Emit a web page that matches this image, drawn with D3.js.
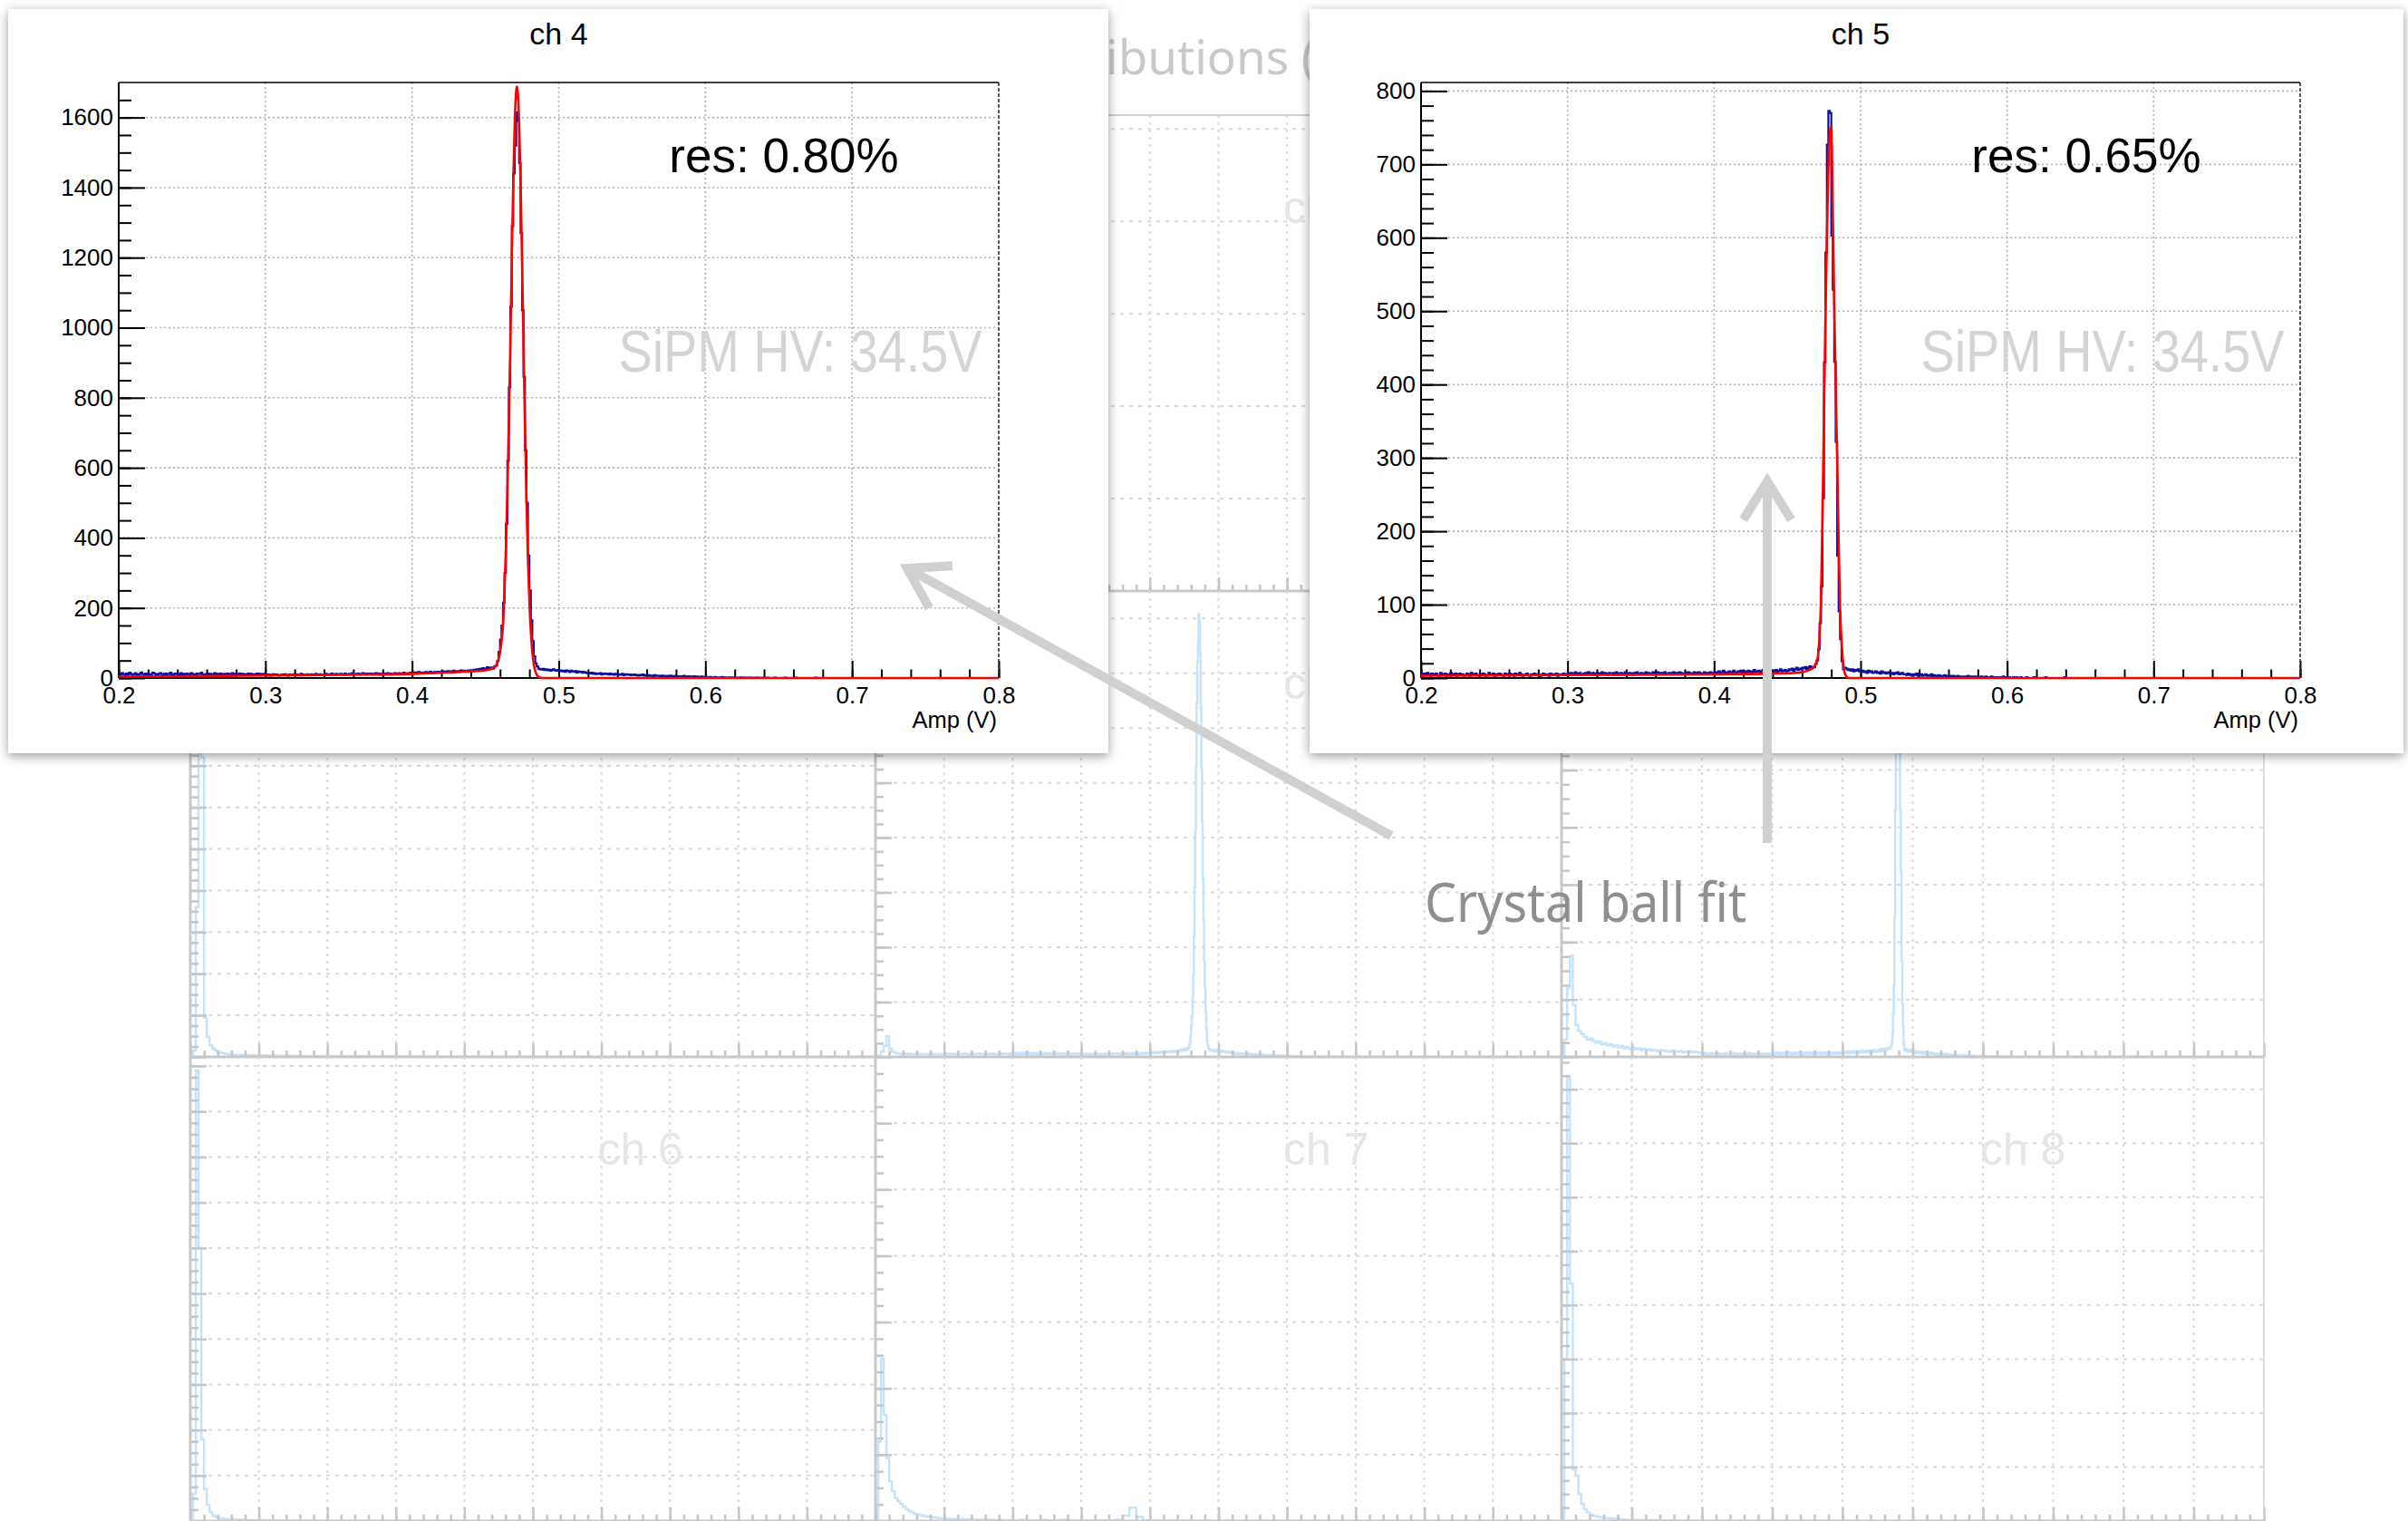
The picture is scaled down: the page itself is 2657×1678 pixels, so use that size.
<!DOCTYPE html>
<html>
<head>
<meta charset="utf-8">
<title>ch 4 / ch 5 amplitude fits</title>
<script src="https://cdn.jsdelivr.net/npm/d3@7/dist/d3.min.js"></script>
<style>
  html, body { margin: 0; padding: 0; background: #fff; }
  svg { display: block; }
</style>
</head>
<body>
<svg id="slide" width="2657" height="1678"></svg>
<script>
// ---------------- data ----------------
// inset histograms: 0.001 V bins starting at 0.2 V
var binStart = 0.2, binWidth = 0.001;

var ch4Counts = [
  12,9,14,11,8,13,10,15,12,9, 11,14,10,8,12,16,11,9,13,10,
  12,8,11,15,13,10,9,12,14,11, 10,13,8,12,11,15,9,10,13,12,
  11,9,14,10,12,8,13,11,10,14, 12,10,9,13,11,12,15,10,8,11,
  13,10,12,9,11,14,10,12,9,13, 11,8,12,10,13,11,9,14,10,12,
  9,11,13,10,12,8,11,10,13,9, 12,10,11,9,13,10,12,11,8,12,
  9,8,10,7,9,11,8,10,9,7, 8,10,9,11,8,7,10,9,8,11,
  9,10,8,9,12,10,8,9,11,10, 9,11,10,8,12,9,10,11,9,8,
  10,12,9,11,10,13,9,10,12,11, 10,12,11,9,13,10,11,12,10,14,
  11,10,12,13,10,11,14,12,10,13, 12,11,13,10,12,14,11,13,12,10,
  13,12,11,14,12,13,10,12,14,13, 12,14,13,11,15,12,13,14,12,15,
  14,16,13,15,17,14,16,15,13,17, 16,15,18,14,16,17,15,18,16,17,
  17,19,16,18,20,17,19,18,21,17, 19,20,18,22,19,21,20,18,22,21,
  22,20,24,21,25,23,26,22,28,24, 27,31,25,29,30,27,33,36,
  48,75,110,150,215,300,440,620,830,1060,
  1290,1440,1520,1615,1590,1470,1270,1050,860,650,
  500,350,250,165,105,62,42,33,27,25,
  24,26,23,25,22,24,21,23,25,22,21,23,
  20,22,19,21,18,22,20,17,21,19, 18,20,16,19,17,18,15,17,16,14,
  14,13,15,12,14,11,13,12,14,10, 12,13,11,12,10,13,11,9,12,10,
  11,9,10,12,8,10,11,9,10,8, 9,10,8,9,7,9,8,10,7,8,
  7,8,6,7,5,8,6,7,6,5, 7,5,6,4,6,5,7,4,5,6,
  4,5,3,5,4,6,3,4,5,3, 4,3,5,2,4,3,2,4,3,2,
  3,2,2,3,1,2,3,1,2,2, 1,3,1,2,1,1,2,0,1,2,
  1,0,1,1,2,0,1,0,1,1, 0,1,0,0,1,0,1,0,0,1,
  0,0,1,0,0,0,0,1,0,0, 0,0,0,0,1,0,0,0,0,0,
  0,1,0,0,0,0,0,0,0,0, 0,0,0,0,0,1,0,0,0,0,
  0,0,0,0,0,0,0,0,0,0, 0,0,0,0,0,0,0,0,0,0,
  0,0,0,0,0,0,0,0,0,0, 0,0,0,0,0,0,0,0,0,0,
  0,0,0,0,0,0,0,0,0,0, 0,0,0,0,0,0,0,0,0,0,
  0,0,0,0,0,0,0,0,0,0, 0,0,0,0,0,0,0,0,0,0,
  0,0,0,0,0,0,0,0,0,0, 0,0,0,0,0,0,0,0,0,0,
  0,0,0,0,0,0,0,0,0,0, 0,0,0,0,0,0,0,0,0,0
];

var ch5Counts = [
  5,3,6,4,7,5,3,6,4,5, 6,4,3,7,5,4,6,3,5,4,
  7,5,4,6,3,5,6,4,5,3, 4,6,5,3,7,4,5,6,4,3,
  5,4,6,5,3,4,7,5,4,6, 3,5,4,6,5,4,3,6,5,4,
  6,4,5,3,6,5,4,7,5,3, 4,5,6,4,3,5,4,6,5,4,
  5,3,4,6,5,4,5,3,6,4, 5,4,6,3,5,4,5,6,4,5,
  6,5,7,4,6,8,5,6,7,5, 4,6,7,5,8,6,5,7,4,6,
  7,5,6,8,5,7,6,4,7,6, 5,7,6,8,5,6,7,5,6,8,
  6,5,7,6,4,7,6,8,5,6, 7,6,5,8,6,7,5,6,8,7,
  6,8,5,7,6,7,8,6,5,7, 6,7,8,5,7,6,8,7,6,5,
  7,6,8,7,5,6,8,7,6,8, 7,5,6,8,7,6,7,8,6,7,
  7,8,6,9,7,8,10,7,8,6, 9,8,7,10,8,7,9,8,10,7,
  8,9,7,10,8,9,7,11,8,9, 10,8,9,11,8,10,9,8,11,9,
  10,9,11,8,10,12,9,10,11,9,
  10,12,11,13,10,12,14,11,13,12, 14,13,15,12,14,16,15,14,
  15,19,24,39,75,125,245,430,580,727,
  773,770,603,529,431,322,167,91,53,23,
  12,14,13,
  11,12,10,12,9,11,10,12,9,
  9,10,8,9,7,10,8,9,7,8, 9,7,8,6,9,7,8,6,7,8,
  6,7,5,7,6,8,5,6,7,5,
  5,4,6,4,5,3,5,4,6,3, 4,5,3,4,5,3,4,3,5,2,
  4,3,2,4,3,2,3,4,2,3, 2,3,1,3,2,2,3,1,2,2,
  2,1,2,3,1,2,1,2,1,2, 1,1,2,0,1,2,1,0,1,2,
  1,0,1,1,0,1,0,2,0,1, 0,1,0,0,1,0,1,0,0,1,
  0,0,0,1,0,0,0,0,1,0, 0,0,0,0,0,0,1,0,0,0,
  0,0,0,0,0,0,0,0,0,1,
  0,0,0,0,0,0,0,0,0,0, 0,0,0,0,0,0,0,0,0,0,
  0,0,0,0,0,0,0,0,0,0, 0,0,0,0,0,0,0,0,0,0,
  0,0,0,0,0,0,0,0,0,0, 0,0,0,0,0,0,0,0,0,0,
  0,0,0,0,0,0,0,0,0,0, 0,0,0,0,0,0,0,0,0,0,
  0,0,0,0,0,0,0,0,0,0, 0,0,0,0,0,0,0,0,0,0,
  0,0,0,0,0,0,0,0,0,0, 0,0,0,0,0,0,0,0,0,0,
  0,0,0,0,0,0,0,0,0,0, 0,0,0,0,0,0,0,0,0,0,
  0,0,0,0,0,0,0,0,0,0, 0,0,0,0,0,0,0,0,0,0
];

// crystal ball fits: [amp (V), counts]
var ch4Fit = [
  [0.200,4],[0.250,5],[0.300,7],[0.350,9],[0.400,12],[0.420,15],[0.440,19],[0.450,22],
  [0.455,28],[0.457,34],[0.459,55],[0.460,73],[0.461,106],[0.462,150],[0.463,245],
  [0.464,368],[0.465,530],[0.466,730],[0.467,951],[0.468,1193],[0.469,1414],[0.470,1584],
  [0.471,1676],[0.4715,1688],[0.472,1676],[0.473,1584],[0.474,1414],[0.475,1193],
  [0.476,951],[0.477,716],[0.478,509],[0.479,343],[0.480,218],[0.481,131],[0.482,74],
  [0.483,40],[0.484,20],[0.485,10],[0.486,4],[0.487,2],[0.488,0.5],[0.490,0],[0.800,0]
];
var ch5Fit = [
  [0.200,3],[0.300,4],[0.400,5],[0.440,6],[0.455,7],[0.460,8],[0.465,11],[0.468,15],
  [0.469,18],[0.470,22],[0.471,32],[0.472,58],[0.473,110],[0.474,220],[0.475,360],
  [0.476,490],[0.477,600],[0.478,690],[0.479,740],[0.480,752],[0.481,640],[0.482,510],
  [0.483,400],[0.484,300],[0.485,190],[0.486,95],[0.487,50],[0.488,22],[0.489,8],
  [0.490,3],[0.492,0],[0.800,0]
];

var ampTicks = [0.2, 0.3, 0.4, 0.5, 0.6, 0.7, 0.8];
var ch4CountTicks = [0, 200, 400, 600, 800, 1000, 1200, 1400, 1600];
var ch5CountTicks = [0, 100, 200, 300, 400, 500, 600, 700, 800];
var insetNames = ["ch 4", "ch 5"];
var resLabels = ["res: 0.80%", "res: 0.65%"];
var hvLabel = "SiPM HV: 34.5V";
var ampLabel = "Amp (V)";
var canvasTitle = "Amplitude distributions (V)";
var fitLabel = "Crystal ball fit";

// faded full canvas behind the insets: 3x3 pads, amp 0..1 V
var padNames = ["ch 0", "ch 1", "ch 2", "ch 3", "ch 4", "ch 5", "ch 6", "ch 7", "ch 8"];
var padYMax = [5150, 5150, 5150, 2800, 1700, 812, 5100, 700, 4300];
var padYStep = [1000, 1000, 1000, 250, 200, 100, 500, 100, 500];
var lowBinWidth = 0.004, highBinWidth = 0.01;
var ch3Low = [0,40,900,2600,1800,235,120,70,50,40, 30,25,20,18,15,14,12,11,10,12,
  9,10,11,8,9,10,8,9,7,8, 9,7,8,6,7,8,6,7,5,6, 7,5,6,4,5,6,4,5,4,5];
var ch4Low = [0,5,20,40,76,30,18,14,12,11, 10,12,9,11,10,12,10,9,11,10,
  12,9,10,11,9,10,12,10,11,9, 10,11,12,10,9,11,10,12,11,10, 9,11,12,10,11,10,12,11,10,12];
var ch5Low = [0,30,120,176,90,55,45,40,35,30, 32,28,25,27,22,24,20,22,18,20,
  17,19,15,17,14,16,13,15,12,14, 12,13,11,12,10,12,11,10,9,11, 10,9,10,8,9,10,8,9,8,7];
var ch6Low = [0,300,4950,3000,900,350,180,100,60,45, 35,30,25,22,20,18,16,15,14,13,
  12,12,11,10,10,9,9,8,8,8, 7,7,7,6,6,6,5,5,5,5, 4,4,4,4,4,3,3,3,3,3];
var ch7Low = [0,120,245,160,95,60,45,35,30,26, 22,18,15,13,11,10,9,8,7,6,
  6,5,5,4,4,4,3,3,3,3, 2,3,2,2,3,2,2,2,1,2, 2,1,2,1,1,2,1,1,1,1];
var ch8Low = [0,1500,4120,2200,478,420,250,160,110,80, 60,50,45,38,32,30,26,24,20,18,
  17,15,14,13,12,11,10,10,9,9, 8,8,7,7,6,6,6,5,5,5, 4,4,4,4,3,3,3,3,3,2];
var ch3High = [6,5,6,4,5,4,5,3,4,3, 3,4,2,3,2,3,2,2,1,2, 1,2,1,1,0,1,1,0,1,0, 0,1,0,0,0,1,0,0,0,0,
  0,0,0,0,0,0,0,0,0,0, 0,0,0,0,0,0,0,0,0,0, 0,0,0,0,0,0,0,0,0,0, 0,0,0,0,0,0,0,0,0,0];
var ch6High = [3,3,2,3,2,2,2,1,2,1, 1,1,1,0,1,1,0,1,0,0, 0,1,0,0,0,0,1,0,0,0, 0,0,0,0,0,0,0,0,0,0,
  0,0,0,0,0,0,0,0,0,0, 0,0,0,0,0,0,0,0,0,0, 0,0,0,0,0,0,0,0,0,0, 0,0,0,0,0,0,0,0,0,0];
var ch7High = [1,2,1,1,2,1,1,2,1,1, 1,1,1,1,1,2,8,20,6,1, 1,1,0,1,0,1,0,0,1,0, 0,1,0,0,0,0,1,0,0,0,
  0,0,0,0,0,0,0,0,0,0, 0,0,0,0,0,0,0,0,0,0, 0,0,0,0,0,0,0,0,0,0, 0,0,0,0,0,0,0,0,0,0];
var ch8High = [3,2,2,2,1,2,1,1,1,0, 1,1,0,1,0,0,1,0,0,0, 1,0,0,0,0,0,0,0,0,0, 0,0,0,0,0,0,0,0,0,0,
  0,0,0,0,0,0,0,0,0,0, 0,0,0,0,0,0,0,0,0,0, 0,0,0,0,0,0,0,0,0,0, 0,0,0,0,0,0,0,0,0,0];

// ---------------- drawing ----------------
var rootFont = "'Liberation Sans', Arial, Helvetica, sans-serif";
var slideFont = "'Noto Sans', 'DejaVu Sans', sans-serif";
var svg = d3.select("#slide");

// the two inset cards: [x, y, w, h]
var cards = [[9, 10, 1214, 821], [1445, 10, 1207, 821]];

var defs = svg.append("defs");
defs.append("filter").attr("id", "cardShadow")
    .attr("x", "-4%").attr("y", "-4%").attr("width", "108%").attr("height", "110%")
  .append("feDropShadow")
    .attr("dx", 0).attr("dy", 3).attr("stdDeviation", 6)
    .attr("flood-color", "#000").attr("flood-opacity", 0.4);

// ---- background canvas ----
var colX = [210, 966, 1723, 2498];
var rowY = [127, 652, 1166, 1678];
var bg = svg.append("g");

var title = bg.append("text")
    .attr("x", 0).attr("y", 82)
    .attr("font-family", slideFont).attr("font-size", 53)
    .attr("fill", "#c9c9c9")
    .text(canvasTitle);
var cut = canvasTitle.indexOf("ibutions");
title.attr("x", 1220 - title.node().getStartPositionOfChar(cut).x);

bg.append("line")
    .attr("x1", colX[0]).attr("x2", colX[3]).attr("y1", rowY[0]).attr("y2", rowY[0])
    .attr("stroke", "#cfcfcf").attr("stroke-width", 2);

var lowSets = [null, null, null, ch3Low, ch4Low, ch5Low, ch6Low, ch7Low, ch8Low];
var highSets = [null, null, null, ch3High, ch4Counts, ch5Counts, ch6High, ch7High, ch8High];
var highWidths = [0, 0, 0, highBinWidth, binWidth, binWidth, highBinWidth, highBinWidth, highBinWidth];

function styleBgAxis(sel) {
  sel.select(".domain").remove();
  sel.selectAll(".tick line").attr("stroke", "#c6c6c6").attr("stroke-width", 2.5);
}

function underCard(box) {
  return cards.some(function(c) {
    return box.x >= c[0] && box.x + box.width <= c[0] + c[2] &&
           box.y >= c[1] && box.y + box.height <= c[1] + c[3];
  });
}

padNames.forEach(function(name, i) {
  var r = Math.floor(i / 3), c = i % 3;
  var x0 = colX[c], x1 = colX[c + 1], y0 = rowY[r], y1 = rowY[r + 1];
  var x = d3.scaleLinear().domain([0, 1]).range([x0, x1]);
  var y = d3.scaleLinear().domain([0, padYMax[i]]).range([y1, y0]);
  var g = bg.append("g");

  var xMajor = d3.range(0, 1.0001, 0.1);
  var xMinor = d3.range(0, 1.0001, 0.02);
  var yMajor = d3.range(0, padYMax[i], padYStep[i]);
  var yMinor = d3.range(0, padYMax[i], padYStep[i] / 4);

  g.selectAll(".vgrid").data(xMajor.slice(1, -1)).enter().append("line")
      .attr("x1", function(d) { return x(d); }).attr("x2", function(d) { return x(d); })
      .attr("y1", y0).attr("y2", y1)
      .attr("stroke", "#dadada").attr("stroke-width", 2).attr("stroke-dasharray", "3,5");
  g.selectAll(".hgrid").data(yMajor.slice(1)).enter().append("line")
      .attr("x1", x0).attr("x2", x1)
      .attr("y1", function(d) { return y(d); }).attr("y2", function(d) { return y(d); })
      .attr("stroke", "#dadada").attr("stroke-width", 2).attr("stroke-dasharray", "4,6");

  var label = g.append("text")
      .attr("x", x0 + 0.657 * (x1 - x0)).attr("y", y0 + 119)
      .attr("text-anchor", "middle")
      .attr("font-family", rootFont).attr("font-size", 50)
      .attr("fill", "#e6e6e6")
      .text(name);
  // pad labels that sit completely under an inset card are never seen
  if (underCard(label.node().getBBox())) label.remove();

  if (lowSets[i]) {
    var pts = lowSets[i].map(function(v, k) { return [k * lowBinWidth, v]; });
    var hs = highSets[i], hw = highWidths[i];
    hs.forEach(function(v, k) { pts.push([0.2 + k * hw, v]); });
    var end = 0.2 + hs.length * hw;
    pts.push([end, 0]);
    if (end < 0.9999) pts.push([1, 0]);
    var bgLine = d3.line()
        .x(function(d) { return x(d[0]); })
        .y(function(d) { return y(Math.min(d[1], padYMax[i])); })
        .curve(d3.curveStepAfter);
    g.append("path").datum(pts)
        .attr("fill", "none").attr("stroke", "#c6e3fa").attr("stroke-width", 2.5)
        .attr("d", bgLine);
  }

  g.append("g").attr("transform", "translate(0," + y1 + ")")
      .call(d3.axisBottom(x).tickValues(xMinor).tickSize(-7).tickFormat(""))
      .call(styleBgAxis);
  g.append("g").attr("transform", "translate(0," + y1 + ")")
      .call(d3.axisBottom(x).tickValues(xMajor).tickSize(-15).tickFormat(""))
      .call(styleBgAxis);
  g.append("g").attr("transform", "translate(" + x0 + ",0)")
      .call(d3.axisLeft(y).tickValues(yMinor).tickSize(-9).tickFormat(""))
      .call(styleBgAxis);
  g.append("g").attr("transform", "translate(" + x0 + ",0)")
      .call(d3.axisLeft(y).tickValues(yMajor).tickSize(-18).tickFormat(""))
      .call(styleBgAxis);

  g.append("line").attr("x1", x0).attr("x2", x1).attr("y1", y1).attr("y2", y1)
      .attr("stroke", "#c8c8c8").attr("stroke-width", 3);
  g.append("line").attr("x1", x0).attr("x2", x0).attr("y1", y0).attr("y2", y1)
      .attr("stroke", "#c8c8c8").attr("stroke-width", 3);
  if (c === 2) {
    g.append("line").attr("x1", x1).attr("x2", x1).attr("y1", y0).attr("y2", y1)
        .attr("stroke", "#d2d2d2").attr("stroke-width", 1.5);
  }
});

// ---- inset cards ----
function drawInset(k, fx0, fx1, yMax, yTicks, yMinorStep, counts, fit) {
  var fy0 = 91, fy1 = 748;
  var card = cards[k];
  var g = svg.append("g");
  g.append("rect")
      .attr("x", card[0]).attr("y", card[1]).attr("width", card[2]).attr("height", card[3])
      .attr("fill", "#fff").attr("filter", "url(#cardShadow)");

  var x = d3.scaleLinear().domain([0.2, 0.8]).range([fx0, fx1]);
  var y = d3.scaleLinear().domain([0, yMax]).range([fy1, fy0]);

  // dotted grid
  g.selectAll(".vgrid").data(ampTicks.slice(1, -1)).enter().append("line")
      .attr("x1", function(d) { return x(d); }).attr("x2", function(d) { return x(d); })
      .attr("y1", fy0).attr("y2", fy1)
      .attr("stroke", "#b4b4b4").attr("stroke-width", 1.6).attr("stroke-dasharray", "2,3");
  g.selectAll(".hgrid").data(yTicks.slice(1)).enter().append("line")
      .attr("x1", fx0).attr("x2", fx1)
      .attr("y1", function(d) { return y(d); }).attr("y2", function(d) { return y(d); })
      .attr("stroke", "#b4b4b4").attr("stroke-width", 1.6).attr("stroke-dasharray", "2,3");

  // axes
  function styleAxis(sel) {
    sel.select(".domain").remove();
    sel.attr("font-family", rootFont).attr("font-size", 26);
    sel.selectAll(".tick line").attr("stroke", "#000").attr("stroke-width", 2);
    sel.selectAll(".tick text").attr("fill", "#000");
  }
  g.append("g").attr("transform", "translate(0," + fy1 + ")")
      .call(d3.axisBottom(x).tickValues(d3.range(0.2, 0.8001, 0.02)).tickSize(-9.5).tickFormat(""))
      .call(styleAxis);
  g.append("g").attr("transform", "translate(0," + fy1 + ")")
      .call(d3.axisBottom(x).tickValues(ampTicks).tickSize(-19).tickPadding(10).tickFormat(d3.format(".1f")))
      .call(styleAxis);
  g.append("g").attr("transform", "translate(" + fx0 + ",0)")
      .call(d3.axisLeft(y).tickValues(d3.range(0, yMax, yMinorStep)).tickSize(-14).tickFormat(""))
      .call(styleAxis);
  g.append("g").attr("transform", "translate(" + fx0 + ",0)")
      .call(d3.axisLeft(y).tickValues(yTicks).tickSize(-29).tickPadding(6).tickFormat(d3.format("d")))
      .call(styleAxis);

  // frame
  g.append("line").attr("x1", fx0).attr("x2", fx1).attr("y1", fy0).attr("y2", fy0)
      .attr("stroke", "#000").attr("stroke-width", 1.6);
  g.append("line").attr("x1", fx1).attr("x2", fx1).attr("y1", fy0).attr("y2", fy1)
      .attr("stroke", "#333").attr("stroke-width", 1.6).attr("stroke-dasharray", "4,2");
  g.append("line").attr("x1", fx0).attr("x2", fx0).attr("y1", fy0).attr("y2", fy1)
      .attr("stroke", "#000").attr("stroke-width", 2);
  g.append("line").attr("x1", fx0).attr("x2", fx1).attr("y1", fy1).attr("y2", fy1)
      .attr("stroke", "#000").attr("stroke-width", 2);

  // histogram
  var pts = counts.map(function(v, i) { return [binStart + i * binWidth, v]; });
  pts.push([binStart + counts.length * binWidth, counts[counts.length - 1]]);
  var histLine = d3.line()
      .x(function(d) { return x(d[0]); })
      .y(function(d) { return y(d[1]); })
      .curve(d3.curveStepAfter);
  g.append("path").datum(pts)
      .attr("fill", "none").attr("stroke", "#0c0c9e").attr("stroke-width", 2.2)
      .attr("d", histLine);

  // fit
  var fitLine = d3.line()
      .x(function(d) { return x(d[0]); })
      .y(function(d) { return y(d[1]); })
      .curve(d3.curveMonotoneX);
  g.append("path").datum(fit)
      .attr("fill", "none").attr("stroke", "#ff0000").attr("stroke-width", 2.6)
      .attr("d", fitLine);

  // texts
  g.append("text")
      .attr("x", (fx0 + fx1) / 2).attr("y", 49)
      .attr("text-anchor", "middle")
      .attr("font-family", rootFont).attr("font-size", 34).attr("fill", "#000")
      .text(insetNames[k]);
  g.append("text")
      .attr("x", fx0 + 734).attr("y", 190)
      .attr("text-anchor", "middle")
      .attr("font-family", rootFont).attr("font-size", 53).attr("fill", "#000")
      .text(resLabels[k]);
  g.append("text")
      .attr("x", fx0 + 752).attr("y", 410)
      .attr("text-anchor", "middle")
      .attr("font-family", rootFont).attr("font-size", 64).attr("fill", "#d4d4d4")
      .attr("textLength", 401).attr("lengthAdjust", "spacingAndGlyphs")
      .text(hvLabel);
  g.append("text")
      .attr("x", fx1 - 2).attr("y", 803)
      .attr("text-anchor", "end")
      .attr("font-family", rootFont).attr("font-size", 25.5).attr("fill", "#000")
      .text(ampLabel);
}

drawInset(0, 131, 1102, 1700, ch4CountTicks, 50, ch4Counts, ch4Fit);
drawInset(1, 1568, 2538, 811.6, ch5CountTicks, 20, ch5Counts, ch5Fit);

// ---- annotation arrows ----
var arrows = [
  { from: [1535, 922], to: [1001, 627] },
  { from: [1950, 930], to: [1950, 531] }
];
var notes = svg.append("g");
arrows.forEach(function(a) {
  var ang = Math.atan2(a.from[1] - a.to[1], a.from[0] - a.to[0]);
  var spread = 32 * Math.PI / 180, len = 50;
  var armA = [a.to[0] + len * Math.cos(ang + spread), a.to[1] + len * Math.sin(ang + spread)];
  var armB = [a.to[0] + len * Math.cos(ang - spread), a.to[1] + len * Math.sin(ang - spread)];
  notes.append("line")
      .attr("x1", a.from[0]).attr("y1", a.from[1]).attr("x2", a.to[0]).attr("y2", a.to[1])
      .attr("stroke", "#d0d0d0").attr("stroke-width", 10);
  notes.append("path")
      .attr("d", d3.line()([armA, a.to, armB]))
      .attr("fill", "none").attr("stroke", "#d0d0d0").attr("stroke-width", 10)
      .attr("stroke-linejoin", "miter");
});

notes.append("text")
    .attr("x", 1572).attr("y", 1017)
    .attr("font-family", slideFont).attr("font-size", 60).attr("fill", "#8f8f8f")
    .attr("textLength", 355).attr("lengthAdjust", "spacingAndGlyphs")
    .text(fitLabel);

if (ch4Counts.length !== 600 || ch5Counts.length !== 600) {
  throw new Error("bin count mismatch: " + ch4Counts.length + " / " + ch5Counts.length);
}
</script>
</body>
</html>
